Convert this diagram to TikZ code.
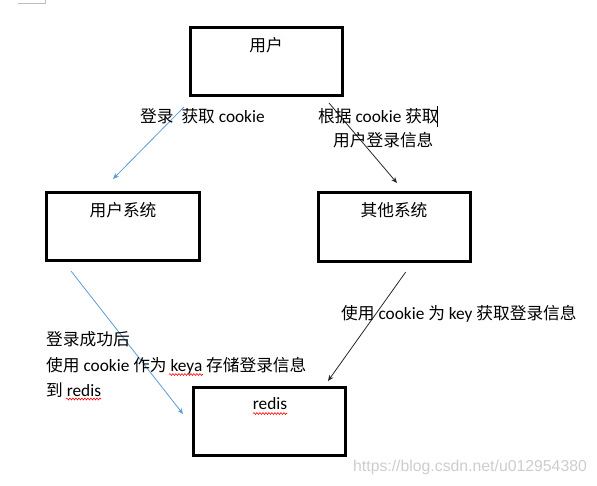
\documentclass[tikz,border=0pt]{standalone}
\usepackage{fontspec}
\setmainfont{Carlito}
\newfontfamily\cjk{Noto Sans CJK SC}
\newfontfamily\wmfont{Liberation Sans}
\usetikzlibrary{arrows.meta,decorations.pathmorphing}
\newcommand\zh[1]{{\cjk\fontsize{16.7}{20}\selectfont #1}}
\definecolor{arrowblue}{RGB}{91,155,213}
\definecolor{wmgray}{RGB}{205,205,205}
\definecolor{cornergray}{RGB}{190,190,190}
\begin{document}
\begin{tikzpicture}[x=1pt,y=-1pt,
  box/.style={draw, line width=3pt, inner sep=0pt},
  lbl/.style={font=\fontsize{17.3}{20}\selectfont, inner sep=0pt, anchor=west},
  ctr/.style={font=\fontsize{17.3}{20}\selectfont, inner sep=0pt},
  bluearrow/.style={draw=arrowblue, line width=0.8pt, -{Stealth[length=6pt,width=5pt]}},
  blackarrow/.style={draw=black!85, line width=0.8pt, -{Stealth[length=6pt,width=5pt]}},
  squiggle/.style={draw=red, line width=0.6pt, decorate, decoration={snake, amplitude=0.9pt, segment length=3pt}}
]
\useasboundingbox (0,0) rectangle (597,485);
% page corner mark
\draw[cornergray, line width=0.8pt] (18,3) -- (45,3) -- (45,0);

% boxes
\node[box, minimum width=152, minimum height=68] (user) at (266.6,61.3) {};
\node[box, minimum width=153, minimum height=68] (usys) at (122.9,226.3) {};
\node[box, minimum width=152, minimum height=69] (osys) at (394.8,227.3) {};
\node[box, minimum width=152, minimum height=68] (redis) at (269.8,421.3) {};

% box texts
\node[ctr] (userT) at (266,45) {\zh{用户}};
\node[ctr] (usysT) at (123,210.5) {\zh{用户系统}};
\node[ctr] (osysT) at (394,210.5) {\zh{其他系统}};
\node[ctr] (redisT) at (270,404) {redis};

% arrow end points
\coordinate (a1s) at (184,107);
\coordinate (a1e) at (113,179);
\coordinate (a2s) at (329,103);
\coordinate (a2e) at (397,183);
\coordinate (a3s) at (71,271);
\coordinate (a3e) at (183,414);
\coordinate (a4s) at (405.7,272);
\coordinate (a4e) at (328,381);

\draw[bluearrow] (a1s) -- (a1e);
\draw[blackarrow] (a2s) -- (a2e);
\draw[bluearrow] (a3s) -- (a3e);
\draw[blackarrow] (a4s) -- (a4e);

% labels
\node[lbl] (lab1) at (140,116) {\zh{登录}\hspace{4pt} \zh{获取} cookie};
\node[lbl] (lab2) at (318,116) {\zh{根据} cookie \zh{获取}};
\node[lbl] (lab2b) at (333,140) {\zh{用户登录信息}};
\node[lbl] (lab4) at (341,314) {\zh{使用} cookie \zh{为} key \zh{获取登录信息}};
\node[lbl] (lab3a) at (46,339) {\zh{登录成功后}};
\node[lbl] (lab3b) at (46,365.5) {\zh{使用} cookie \zh{作为} keya \zh{存储登录信息}};
\node[lbl] (lab3c) at (46,390) {\zh{到} redis};

% text cursor
\coordinate (curT) at (437.5,106);
\coordinate (curB) at (437.5,127);
\draw[line width=1.3pt] (curT) -- (curB);

% spell-check squiggles
\coordinate (sq1s) at (169,374.5);
\coordinate (sq1e) at (203,374.5);
\coordinate (sq2s) at (66,399);
\coordinate (sq2e) at (101,399);
\coordinate (sq3s) at (253,413.5);
\coordinate (sq3e) at (287,413.5);
\draw[squiggle] (sq1s) -- (sq1e);
\draw[squiggle] (sq2s) -- (sq2e);
\draw[squiggle] (sq3s) -- (sq3e);

% watermark
\node[anchor=west, inner sep=0pt, text=wmgray, font=\wmfont\fontsize{15.8}{18}\selectfont] (wm) at (353,467) {https://blog.csdn.net/u012954380};
\end{tikzpicture}
\end{document}
